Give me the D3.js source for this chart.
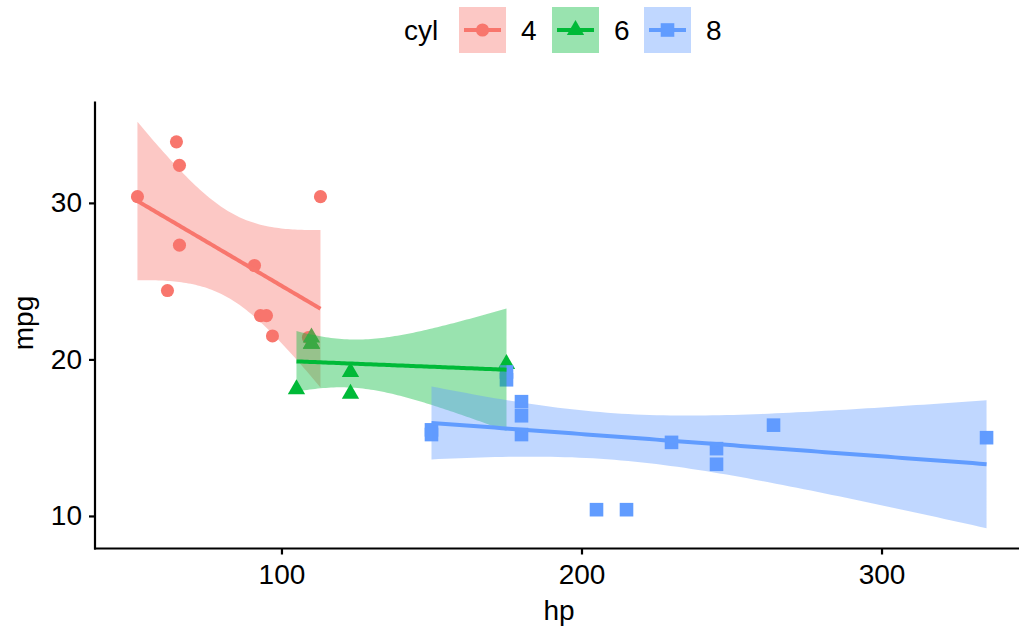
<!DOCTYPE html>
<html>
<head>
<meta charset="utf-8">
<script src="https://cdn.jsdelivr.net/npm/d3@7"></script>
<style>
  body { margin: 0; background: #fff; }
  text { font-family: "Liberation Sans", Arial, sans-serif; }
</style>
</head>
<body>
<div id="chart"></div>
<script>
// mtcars: hp vs mpg, by number of cylinders
const groups = ['4', '6', '8'];
const hp4 = [93, 62, 95, 66, 52, 65, 97, 66, 91, 113, 109];
const mpg4 = [22.8, 24.4, 22.8, 32.4, 30.4, 33.9, 21.5, 27.3, 26.0, 30.4, 21.4];
const hp6 = [110, 110, 110, 105, 123, 123, 175];
const mpg6 = [21.0, 21.0, 21.4, 18.1, 19.2, 17.8, 19.7];
const hp8 = [175, 245, 180, 180, 180, 205, 215, 230, 150, 150, 245, 175, 264, 335];
const mpg8 = [18.7, 14.3, 16.4, 17.3, 15.2, 10.4, 10.4, 14.7, 15.5, 15.2, 13.3, 19.2, 15.8, 15.0];
// 97.5% t quantiles for df = n - 2
const tCrit = [2.262157, 2.570582, 2.178813];
const colors = ['#F8766D', '#00BA38', '#619CFF'];
const xTicks = [100, 200, 300];
const yTicks = [10, 20, 30];

const width = 1019, height = 632;
const fontSize = 28;
const svg = d3.select('#chart').append('svg')
    .attr('width', width)
    .attr('height', height);

const series = [[hp4, mpg4], [hp6, mpg6], [hp8, mpg8]].map(([xs, ys], i) => {
    const n = xs.length;
    const xm = d3.mean(xs), ym = d3.mean(ys);
    const sxx = d3.sum(xs, x => (x - xm) ** 2);
    const sxy = d3.sum(xs, (x, j) => (x - xm) * (ys[j] - ym));
    const b = sxy / sxx, a = ym - b * xm;
    const s = Math.sqrt(d3.sum(xs, (x, j) => (ys[j] - a - b * x) ** 2) / (n - 2));
    const [lo, hi] = d3.extent(xs);
    const fit = d3.range(80).map(k => {
        const x = lo + (hi - lo) * k / 79;
        const y = a + b * x;
        const se = s * Math.sqrt(1 / n + (x - xm) ** 2 / sxx);
        return { x, y, ymin: y - tCrit[i] * se, ymax: y + tCrit[i] * se };
    });
    return { key: groups[i], color: colors[i], pts: xs.map((x, j) => ({ x, y: ys[j] })), fit };
});

// scales with ggplot-like 5% expansion
const allX = [...hp4, ...hp6, ...hp8];
const xr = d3.extent(allX);
const xPad = (xr[1] - xr[0]) * 0.05;
const x = d3.scaleLinear().domain([xr[0] - xPad, xr[1] + xPad]).range([95, 1029]);

const yMin = d3.min(series, s => d3.min([...s.fit.map(f => f.ymin), ...s.pts.map(p => p.y)]));
const yMax = d3.max(series, s => d3.max([...s.fit.map(f => f.ymax), ...s.pts.map(p => p.y)]));
const yPad = (yMax - yMin) * 0.05;
const y = d3.scaleLinear().domain([yMin - yPad, yMax + yPad]).range([548.5, 101.5]);

const panel = svg.append('g');

// points
const symType = [d3.symbolCircle, d3.symbolTriangle, d3.symbolSquare];
const symSize = [135, 130, 185];
series.forEach((s, i) => {
    panel.selectAll('.pt' + i)
        .data(s.pts)
        .join('path')
        .attr('class', 'pt' + i)
        .attr('transform', d => `translate(${x(d.x)},${y(d.y)})`)
        .attr('d', d3.symbol().type(symType[i]).size(symSize[i]))
        .attr('fill', s.color);
});

// smooths
const area = d3.area().x(d => x(d.x)).y0(d => y(d.ymin)).y1(d => y(d.ymax));
const line = d3.line().x(d => x(d.x)).y(d => y(d.y));
series.forEach(s => {
    panel.append('path')
        .attr('d', area(s.fit))
        .attr('fill', s.color)
        .attr('fill-opacity', 0.4);
    panel.append('path')
        .attr('d', line(s.fit))
        .attr('fill', 'none')
        .attr('stroke', s.color)
        .attr('stroke-width', 4);
});

// axes
const xAxis = svg.append('g')
    .attr('transform', 'translate(0,548.5)')
    .call(d3.axisBottom(x).tickValues(xTicks).tickSize(6).tickPadding(10));
const yAxis = svg.append('g')
    .attr('transform', 'translate(95,0)')
    .call(d3.axisLeft(y).tickValues(yTicks).tickSize(6).tickPadding(7));
[xAxis, yAxis].forEach(ax => {
    ax.select('.domain').attr('stroke', '#000').attr('stroke-width', 2.2);
    ax.selectAll('.tick line').attr('stroke', '#000').attr('stroke-width', 2.2);
    ax.selectAll('.tick text').attr('fill', '#000').style('font-size', fontSize + 'px');
});
xAxis.select('.domain').attr('d', 'M94,0H1019');
yAxis.select('.domain').attr('d', 'M0,101.5V549.5');

svg.append('text')
    .attr('x', 559).attr('y', 620)
    .attr('text-anchor', 'middle')
    .style('font-size', fontSize + 'px')
    .text('hp');
svg.append('text')
    .attr('transform', 'translate(33,323) rotate(-90)')
    .attr('text-anchor', 'middle')
    .style('font-size', fontSize + 'px')
    .text('mpg');

// legend
const legend = svg.append('g');
legend.append('text')
    .attr('x', 404).attr('y', 40)
    .style('font-size', fontSize + 'px')
    .text('cyl');
const keyX = [459, 552, 644];
series.forEach((s, i) => {
    const g = legend.append('g').attr('transform', `translate(${keyX[i]},7)`);
    g.append('rect')
        .attr('width', 47).attr('height', 46)
        .attr('fill', s.color).attr('fill-opacity', 0.4);
    g.append('line')
        .attr('x1', 5).attr('x2', 42).attr('y1', 23).attr('y2', 23)
        .attr('stroke', s.color).attr('stroke-width', 4);
    g.append('path')
        .attr('transform', 'translate(23.5,23)')
        .attr('d', d3.symbol().type(symType[i]).size(symSize[i]))
        .attr('fill', s.color);
    g.append('text')
        .attr('x', 62).attr('y', 33)
        .style('font-size', fontSize + 'px')
        .text(s.key);
});
</script>
</body>
</html>
